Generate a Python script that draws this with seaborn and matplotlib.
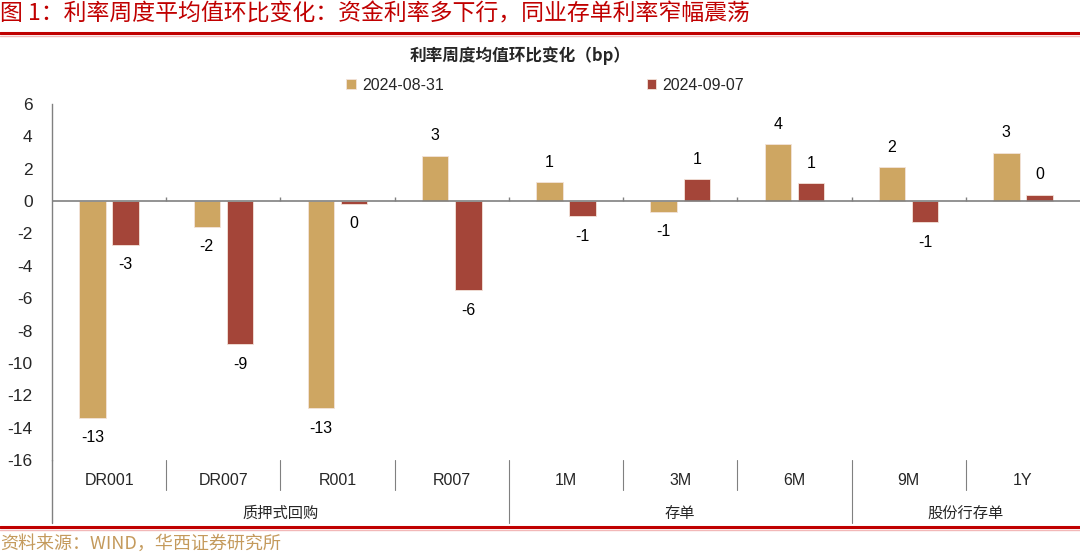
import pandas as pd
import matplotlib.pyplot as plt
import seaborn as sns
from matplotlib.lines import Line2D
import matplotlib.transforms as mtransforms

# Data (bp)
categories = ['DR001', 'DR007', 'R001', 'R007', '1M', '3M', '6M', '9M', '1Y']
groups = ['质押式回购', '存单', '股份行存单']
group_sizes = [4, 3, 2]
dates = ['2024-08-31', '2024-09-07']
chg_0831 = [-13.4, -1.6, -12.8, 2.8, 1.15, -0.65, 3.52, 2.1, 3.0]
chg_0907 = [-2.7, -8.85, -0.15, -5.5, -0.95, 1.35, 1.1, -1.3, 0.4]
yticks = list(range(-16, 7, 2))

df = pd.DataFrame({
    'cat': categories * 2,
    'val': chg_0831 + chg_0907,
    'date': [dates[0]] * len(categories) + [dates[1]] * len(categories),
})

gold = '#CEA662'
red = '#A44539'
title_red = '#C00000'
gray = '#808080'

sns.set_style('white')
plt.rcParams['font.family'] = ['Liberation Sans', 'Noto Sans CJK SC', 'DejaVu Sans']
cjk = ['Noto Sans CJK SC', 'DejaVu Sans']

fig = plt.figure(figsize=(10.8, 5.53), dpi=100)
ax = fig.add_axes([52 / 1080, 93 / 553, 1028 / 1080, 356 / 553])

sns.barplot(data=df, x='cat', y='val', hue='date', palette=[gold, red],
            width=0.58, gap=0.2, ax=ax, edgecolor='#F3E3DA', linewidth=0.6,
            saturation=1, err_kws={'linewidth': 0})

for cont, vals in zip(ax.containers, [chg_0831, chg_0907]):
    ax.bar_label(cont, labels=[str(int(round(v))) for v in vals],
                 padding=9, fontsize=11.5, color='black')

ax.set_ylim(-16, 6)
ax.set_xlim(-0.5, len(categories) - 0.5)
ax.set_yticks(yticks)
ax.set_yticklabels([str(t) for t in yticks], fontsize=12.5)
ax.set_xticks([])
ax.set_xlabel('')
ax.set_ylabel('')
for s in ['top', 'right', 'bottom']:
    ax.spines[s].set_visible(False)
ax.spines['left'].set_color(gray)
ax.spines['left'].set_linewidth(1)
ax.tick_params(axis='y', direction='in', length=5, color=gray, pad=14)

# zero line with small ticks at category boundaries
ax.axhline(0, color=gray, lw=1.2, zorder=1)
bounds = [i + 0.5 for i in range(len(categories) - 1)]
ax.vlines(bounds, 0, 0.25, color=gray, lw=1)

# category / group labels below the axis
trans = mtransforms.blended_transform_factory(ax.transData, ax.transAxes)
group_ends = [sum(group_sizes[:i + 1]) - 0.5 for i in range(len(group_sizes))]
for b in bounds:
    low = -0.177 if b in group_ends else -0.085
    ax.add_line(Line2D([b, b], [0, low], transform=trans, color=gray, lw=0.8,
                       clip_on=False))
for i, c in enumerate(categories):
    ax.text(i, -0.057, c, transform=trans, ha='center', va='center', fontsize=11.5)
start = -0.5
for g, n in zip(groups, group_sizes):
    ax.text(start + n / 2, -0.151, g, transform=trans, ha='center', va='center',
            fontsize=11, family=cjk)
    start += n
fig.add_artist(Line2D([52 / 1080, 52 / 1080], [93 / 553, 30 / 553], color=gray, lw=1))

# legend
ax.get_legend().remove()
handles, labels = ax.get_legend_handles_labels()
fig.legend(handles[:2], labels[:2], loc='center left', ncol=2, frameon=False,
           bbox_to_anchor=(346 / 1080, 1 - 85 / 553), borderaxespad=0, borderpad=0,
           fontsize=11.5, handlelength=0.6, handleheight=0.6, handletextpad=0.4,
           columnspacing=12.7)

# titles and decorations
fig.text(0.0, 1 - 14 / 553, '图 1：利率周度平均值环比变化：资金利率多下行，同业存单利率窄幅震荡',
         color=title_red, fontsize=16.5, va='center', ha='left', family=cjk)
fig.add_artist(Line2D([0, 1], [1 - 33 / 553] * 2, color=title_red, lw=2.2))
fig.add_artist(Line2D([0, 1], [1 - 35.5 / 553] * 2, color='#F2B8B8', lw=1))
fig.text(520 / 1080, 1 - 56 / 553, '利率周度均值环比变化（bp）', fontsize=12,
         fontweight='bold', ha='center', va='center', family=cjk)
fig.add_artist(Line2D([0, 1], [1 - 527 / 553] * 2, color=title_red, lw=2.2))
fig.add_artist(Line2D([0, 1], [1 - 529.5 / 553] * 2, color='#F2B8B8', lw=1))
fig.text(0.0, 1 - 544 / 553, '资料来源：WIND，华西证券研究所', color='#C49A5C',
         fontsize=13, va='center', ha='left', family=cjk)

plt.savefig('out.png', dpi=100)
